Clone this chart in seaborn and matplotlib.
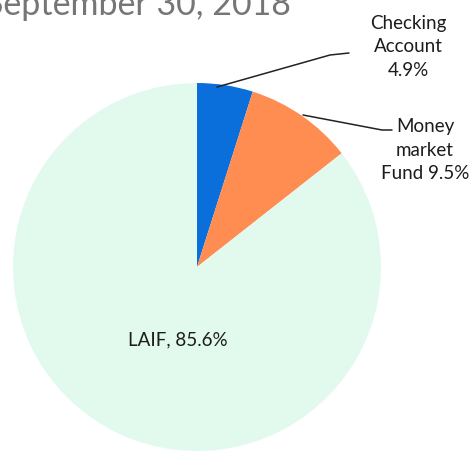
import matplotlib
matplotlib.use("Agg")
import matplotlib.pyplot as plt
import seaborn as sns

sns.set_theme(style="white")
plt.rcParams['font.family'] = ['Lato', 'DejaVu Sans']

categories = ["Checking Account", "Money market Fund", "LAIF"]
values = [4.9, 9.5, 85.6]
labels = ["Checking\nAccount\n4.9%", "Money\nmarket\nFund 9.5%", "LAIF, 85.6%"]
colors = ["#0A6FDA", "#FF8C50", "#E2F9EE"]
title = "September 30, 2018"

W, H = 471, 451
fig = plt.figure(figsize=(W / 100, H / 100), dpi=100)
ax = fig.add_axes([0, 0, 1, 1])

def Y(y):
    return H - y

cx, cy, r = 197, 267, 184
ax.pie(values, colors=colors, startangle=90, counterclock=False,
       center=(cx, Y(cy)), radius=r, frame=True,
       wedgeprops=dict(linewidth=0))
ax.set_xlim(0, W)
ax.set_ylim(0, H)
ax.set_aspect("equal")
ax.axis("off")

# title (cropped at top, as in the reference)
ax.text(291, Y(15), title, ha="right", va="baseline", fontsize=24.5,
        color="#767676")

# Checking label + leader
ax.text(408, Y(47), labels[0], ha="center", va="center", fontsize=13.5,
        color="#1c1c1c", linespacing=1.45)
ax.plot([217, 330, 349], [Y(87), Y(55), Y(53)], color="#222222", lw=1.1)

# Money market label + leader
ax.text(425, Y(150), labels[1], ha="center", va="center", fontsize=13.5,
        color="#1c1c1c", linespacing=1.45)
ax.plot([303, 382, 392], [Y(115), Y(130), Y(130)], color="#222222", lw=1.1)

# LAIF label
ax.text(178, Y(340), labels[2], ha="center", va="center", fontsize=13.5,
        color="#1c1c1c")

fig.savefig("out.png", dpi=100)
